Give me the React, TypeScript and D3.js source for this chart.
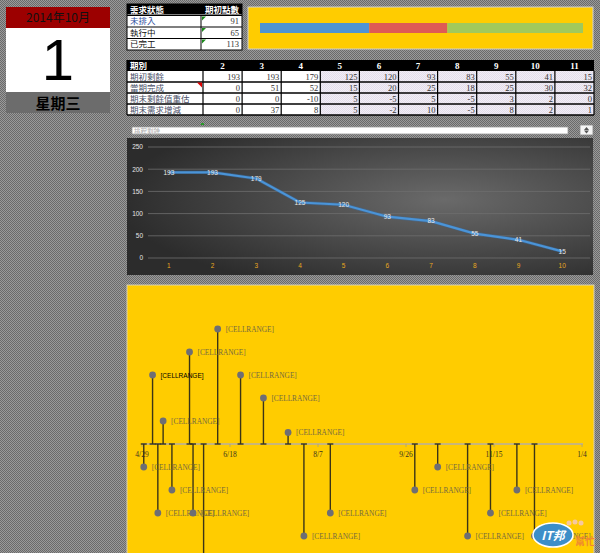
import React from 'react';
import * as d3 from 'd3';

// ---------- data ----------
const calendarMonth = '2014年10月';
const calendarDay = '1';
const calendarWeekday = '星期三';

const statusHeader = ['需求狀態', '期初點數'];
const statusNames = ['未排入', '執行中', '已完工'];
const statusPoints = [91, 65, 113];
const statusColors = ['#4f94d2', '#de5b55', '#a1c95b'];

const tableHeader = '期別';
const periods = ['2', '3', '4', '5', '6', '7', '8', '9', '10', '11'];
const rowLabels = ['期初剩餘', '當期完成', '期末剩餘值重估', '期末需求增減'];
const openRemaining = [193, 193, 179, 125, 120, 93, 83, 55, 41, 15];
const completedNow = [0, 51, 52, 15, 20, 25, 18, 25, 30, 32];
const revalued = [0, 0, -10, 5, -5, 5, -5, 3, 2, 0];
const demandChange = [0, 37, 8, 5, -2, 10, -5, 8, 2, 1];
const tableRows = [openRemaining, completedNow, revalued, demandChange];

const dropdownText = '排程剩餘';

const lineCategories = ['1', '2', '3', '4', '5', '6', '7', '8', '9', '10'];
const lineValues = [193, 193, 179, 125, 120, 93, 83, 55, 41, 15];
const lineYTicks = [0, 50, 100, 150, 200, 250];

const eventDates = [
  '2014-04-30', '2014-05-05', '2014-05-08', '2014-05-11', '2014-05-16',
  '2014-05-26', '2014-05-28', '2014-06-03', '2014-06-11', '2014-06-24',
  '2014-07-07', '2014-07-21', '2014-07-30', '2014-08-14', '2014-10-01',
  '2014-10-14', '2014-10-31', '2014-11-13', '2014-11-28', '2014-12-08',
];
const eventHeights = [-10, 30, -30, 10, -20, 40, -30, -60, 50, 30, 20, 5, -40, -30, -20, -10, -40, -30, -20, -40];
const eventLabels = eventDates.map(() => '[CELLRANGE]');
const timelineTicks = ['2014-04-29', '2014-06-18', '2014-08-07', '2014-09-26', '2014-11-15', '2015-01-04'];

// ---------- component ----------
const CJK = '"Noto Sans CJK TC", "Noto Sans CJK SC", sans-serif';
const SERIF = '"Liberation Serif", "DejaVu Serif", serif';
const SANS = '"Liberation Sans", Arial, sans-serif';

export default function App() {
  // progress bar
  const total = d3.sum(statusPoints);
  const barX = d3.scaleLinear().domain([0, total]).range([260, 583]);
  const cum = d3.cumsum(statusPoints);
  const segs = statusPoints.map((v, i) => ({ x0: barX(cum[i] - v), x1: barX(cum[i]), c: statusColors[i] }));

  // top table
  const stRow = d3.scaleBand<number>().domain(d3.range(4)).range([4, 50]);

  // middle table
  const colX = d3.scaleBand<string>().domain(periods).range([203, 594]);
  const rowY = d3.scaleBand<number>().domain(d3.range(4)).range([71, 115]);

  // line chart
  const lx = d3.scaleBand<string>().domain(lineCategories).range([147, 584]);
  const ly = d3.scaleLinear().domain([0, 250]).range([258, 147]);
  const linePath = d3.line<number>()
    .x((_, i) => (lx(lineCategories[i]) as number) + lx.bandwidth() / 2)
    .y((d) => ly(d))(lineValues) as string;

  // timeline
  const parse = d3.timeParse('%Y-%m-%d');
  const tx = d3.scaleTime()
    .domain([parse(timelineTicks[0]) as Date, parse(timelineTicks[timelineTicks.length - 1]) as Date])
    .range([142, 582]);
  const ty = d3.scaleLinear().domain([-50, 50]).range([559, 329]);
  const axisY = ty(0);
  const fmt = d3.timeFormat('%-m/%-d');

  return (
    <svg width={600} height={553} style={{ position: 'absolute', left: 0, top: 0 }}>
      <defs>
        <pattern id="dither" width={2} height={2} patternUnits="userSpaceOnUse">
          <rect width={2} height={2} fill="#9a9a9a" />
          <rect width={1} height={1} fill="#6a6a6a" />
          <rect x={1} y={1} width={1} height={1} fill="#6a6a6a" />
        </pattern>
        <pattern id="lav" width={2} height={2} patternUnits="userSpaceOnUse">
          <rect width={2} height={2} fill="#f2eef6" />
          <rect width={1} height={1} fill="#e2dcea" />
          <rect x={1} y={1} width={1} height={1} fill="#e2dcea" />
        </pattern>
        <radialGradient id="dark" cx="68%" cy="45%" r="70%">
          <stop offset="0%" stopColor="#6a6a6a" />
          <stop offset="100%" stopColor="#2c2c2c" />
        </radialGradient>
        <clipPath id="tlclip">
          <rect x={127} y={285} width={467} height={268} />
        </clipPath>
      </defs>
      <rect width={600} height={553} fill="url(#dither)" />

      {/* calendar */}
      <rect x={6} y={7} width={104} height={21} fill="#9c0000" />
      <text x={58} y={22} textAnchor="middle" fontFamily={CJK} fontSize={12} fill="#111">{calendarMonth}</text>
      <rect x={6} y={28} width={104} height={64} fill="#ffffff" />
      <text x={58} y={80} textAnchor="middle" fontFamily={SANS} fontSize={58} fill="#000">{calendarDay}</text>
      <rect x={6} y={92} width={104} height={21} fill="#6c6c6c" />
      <text x={58} y={109} textAnchor="middle" fontFamily={CJK} fontWeight="bold" fontSize={15} fill="#000">{calendarWeekday}</text>

      {/* status table */}
      <rect x={127} y={4} width={115} height={46} fill="#fff" stroke="#000" strokeWidth={1} />
      <rect x={127} y={4} width={115} height={stRow.bandwidth() - 1} fill="#000" />
      <text x={130} y={13} fontFamily={CJK} fontSize={8.5} fontWeight="bold" fill="#fff">{statusHeader[0]}</text>
      <text x={239} y={13} textAnchor="end" fontFamily={CJK} fontSize={8.5} fontWeight="bold" fill="#fff">{statusHeader[1]}</text>
      {statusNames.map((n, i) => {
        const y0 = stRow(i + 1) as number;
        const h = stRow.bandwidth();
        return (
          <g key={n}>
            <line x1={127} x2={242} y1={y0} y2={y0} stroke="#000" strokeWidth={1.2} />
            <line x1={201} x2={201} y1={y0} y2={y0 + h} stroke="#000" strokeWidth={1} />
            <path d={`M202,${y0 + 1} l4,0 l-4,4 z`} fill="#1a8a1a" />
            <text x={130} y={y0 + h - 3} fontFamily={CJK} fontSize={8.5} fill={i === 0 ? '#3050a0' : '#111'}>{n}</text>
            <text x={239} y={y0 + h - 3} textAnchor="end" fontFamily={SERIF} fontSize={8.5} fill="#333">{statusPoints[i]}</text>
          </g>
        );
      })}

      {/* progress panel */}
      <rect x={248} y={7} width={345} height={42} fill="#ffcc00" stroke="#cfcfcf" strokeWidth={1} />
      {segs.map((s, i) => (
        <rect key={i} x={s.x0} y={23} width={s.x1 - s.x0} height={10} fill={s.c} />
      ))}

      {/* period table */}
      <rect x={127} y={60} width={467} height={11} fill="#000" />
      <text x={130} y={69} fontFamily={CJK} fontSize={8.5} fontWeight="bold" fill="#fff">{tableHeader}</text>
      {periods.map((p) => (
        <text key={p} x={(colX(p) as number) + colX.bandwidth() / 2} y={69} textAnchor="middle"
          fontFamily={SERIF} fontWeight="bold" fontSize={9} fill="#fff">{p}</text>
      ))}
      <rect x={127} y={71} width={76} height={44} fill="#fff" />
      {periods.map((p, j) => (
        <rect key={'bg' + p} x={colX(p)} y={71} width={colX.bandwidth()} height={44} fill={j >= 3 ? 'url(#lav)' : '#fff'} />
      ))}
      {rowLabels.map((lab, r) => {
        const y0 = rowY(r) as number;
        const h = rowY.bandwidth();
        return (
          <g key={lab}>
            <text x={130} y={y0 + h - 2.5} fontFamily={CJK} fontSize={8.5} fill="#4a5068">{lab}</text>
            {tableRows[r].map((v, j) => (
              <text key={j} x={(colX(periods[j]) as number) + colX.bandwidth() - 2} y={y0 + h - 2.5}
                textAnchor="end" fontFamily={SERIF} fontSize={8.5} fill="#333">{v}</text>
            ))}
            <line x1={127} x2={594} y1={y0 + h} y2={y0 + h} stroke="#000" strokeWidth={1.3} />
          </g>
        );
      })}
      <path d={`M197,${(rowY(1) as number) + 0.5} l5,0 l0,5 z`} fill="#e00000" />
      <line x1={203} x2={203} y1={60} y2={115} stroke="#000" strokeWidth={1.2} />
      {periods.map((p) => (
        <line key={'v' + p} x1={(colX(p) as number) + colX.bandwidth()} x2={(colX(p) as number) + colX.bandwidth()}
          y1={71} y2={115} stroke="#000" strokeWidth={1.2} />
      ))}
      <line x1={127} x2={127} y1={60} y2={115} stroke="#000" strokeWidth={1.2} />

      {/* dropdown */}
      <rect x={132} y={127} width={436} height={7} fill="#fff" stroke="#9a9a9a" strokeWidth={0.8} />
      <text x={134} y={133.5} fontFamily={CJK} fontSize={6.5} fill="#aaa">{dropdownText}</text>
      <rect x={201} y={123} width={3} height={2} fill="#2a9a2a" />
      <rect x={580} y={125} width={13} height={10} fill="#f4f4f4" stroke="#888" strokeWidth={0.8} />
      <path d="M586.5,127 l2.5,3 l-5,0 z M586.5,133.5 l2.5,-3 l-5,0 z" fill="#555" />

      {/* line chart */}
      <rect x={127} y={138} width={466} height={137} fill="url(#dark)" />
      {lineYTicks.map((t) => (
        <g key={t}>
          <line x1={148} x2={590} y1={ly(t)} y2={ly(t)} stroke="#6e6e6e" strokeWidth={0.8} />
          <text x={143} y={ly(t) + 2.3} textAnchor="end" fontFamily={SANS} fontSize={6.5} fill="#e6e6e6">{t}</text>
        </g>
      ))}
      {lineCategories.map((c) => (
        <text key={c} x={(lx(c) as number) + lx.bandwidth() / 2} y={268} textAnchor="middle"
          fontFamily={SANS} fontSize={6.5} fill="#e8a820">{c}</text>
      ))}
      <path d={linePath} fill="none" stroke="#3a6fa8" strokeWidth={3.5} opacity={0.5} />
      <path d={linePath} fill="none" stroke="#4a94d8" strokeWidth={2.2} />
      {lineValues.map((v, i) => (
        <text key={i} x={(lx(lineCategories[i]) as number) + lx.bandwidth() / 2} y={ly(v) + 2.3}
          textAnchor="middle" fontFamily={SANS} fontSize={6.5} fill="#e8e8e8">{v}</text>
      ))}

      {/* timeline */}
      <rect x={127} y={285} width={467} height={270} fill="#ffcc00" stroke="#d6d0b8" strokeWidth={1} />
      <g clipPath="url(#tlclip)">
        <line x1={142} x2={583} y1={axisY} y2={axisY} stroke="#c8b67a" strokeWidth={2} />
        {timelineTicks.map((t) => {
          const d = parse(t) as Date;
          return (
            <g key={t}>
              <line x1={tx(d)} x2={tx(d)} y1={axisY} y2={axisY + 3} stroke="#b8a86a" strokeWidth={1} />
              <text x={tx(d)} y={axisY + 13} textAnchor="middle" fontFamily={SERIF} fontSize={7.5} fill="#3a3320">{fmt(d)}</text>
            </g>
          );
        })}
        {eventDates.map((ds, i) => {
          const x = tx(parse(ds) as Date);
          const y = ty(eventHeights[i]);
          return (
            <g key={ds}>
              <line x1={x} x2={x} y1={axisY} y2={y} stroke="#3b3416" strokeWidth={1.4} />
              <line x1={x - 3} x2={x + 3} y1={axisY} y2={axisY} stroke="#3b3416" strokeWidth={1.4} />
            </g>
          );
        })}
        {eventDates.map((ds, i) => {
          const x = tx(parse(ds) as Date);
          const y = ty(eventHeights[i]);
          const special = i === 1;
          if (y > 553) return null;
          return (
            <g key={'m' + ds}>
              <circle cx={x} cy={y} r={3.4} fill="#6e6e74" />
              <text x={x + 8} y={y + 2.6} fontFamily={special ? SANS : SERIF} fontSize={special ? 6.5 : 7.3}
                fill={special ? '#000' : '#756a40'}>{eventLabels[i]}</text>
            </g>
          );
        })}
      </g>

      {/* watermark logo */}
      <ellipse cx={553} cy={535} rx={20} ry={12} fill="#3c8ec8" stroke="#fff" strokeWidth={1.5} />
      <text x={553} y={540} textAnchor="middle" fontFamily={CJK} fontWeight="bold" fontStyle="italic" fontSize={12} fill="#fff">IT邦</text>
      <text x={575} y={545} fontFamily={CJK} fontWeight="bold" fontSize={10} fill="#f08a30">幫忙</text>
      <circle cx={569} cy={523} r={2.5} fill="#f7c8a0" />
      <circle cx={575} cy={522} r={2.5} fill="#f7c8a0" />
      <circle cx={581} cy={523} r={2.5} fill="#f7c8a0" />
    </svg>
  );
}
